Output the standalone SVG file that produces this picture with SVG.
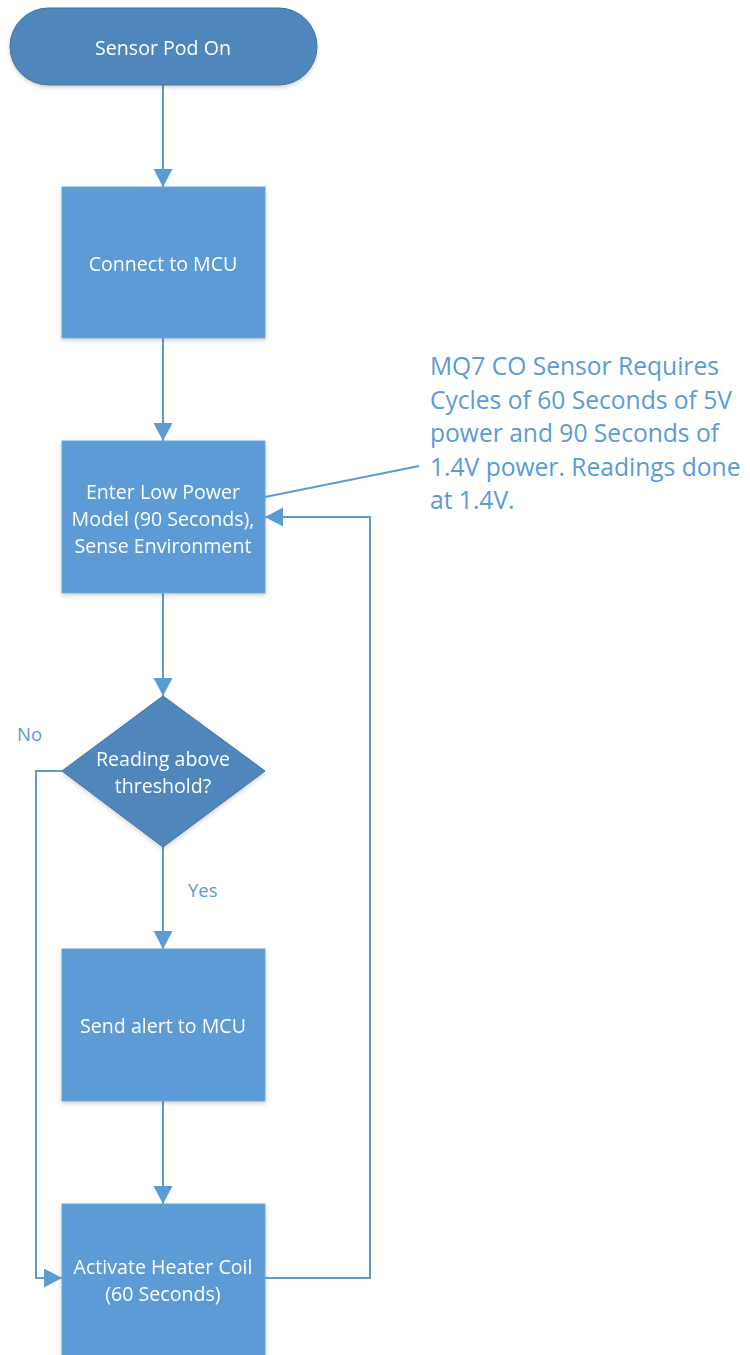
<svg xmlns="http://www.w3.org/2000/svg" width="750" height="1355" viewBox="0 0 750 1355">
  <style>
    .proc { fill: #5b9bd5; stroke: #6ea6d8; stroke-width: 1; }
    .dark { fill: #4f87bd; stroke: #41719c; stroke-width: 1; }
    .lbl { font-family: "Open Sans", "Noto Sans", sans-serif; font-size: 19.6px; fill: #ffffff; text-anchor: middle; dominant-baseline: central; }
    .conn { fill: none; stroke: #5b9bd5; stroke-width: 2; }
    .note { font-family: "Open Sans", "Noto Sans", sans-serif; font-size: 24.6px; fill: #5b9bd5; }
    .tag { font-family: "Open Sans", "Noto Sans", sans-serif; font-size: 18.5px; fill: #5b9bd5; dominant-baseline: central; }
  </style>
  <defs>
    <marker id="arrow" markerUnits="userSpaceOnUse" markerWidth="19" markerHeight="20" refX="18" refY="9.5" orient="auto">
      <path d="M0,0 L18,9.5 L0,19 Z" fill="#5b9bd5"/>
    </marker>
    <filter id="shadow" x="-10%" y="-10%" width="120%" height="125%">
      <feDropShadow dx="0" dy="2" stdDeviation="2" flood-color="#000" flood-opacity="0.18"/>
    </filter>
  </defs>
  <rect width="750" height="1355" fill="#ffffff"/>

  <!-- connectors -->
  <g id="connectors">
    <line class="conn" x1="163" y1="85" x2="163" y2="187" marker-end="url(#arrow)"/>
    <line class="conn" x1="163" y1="338" x2="163" y2="441" marker-end="url(#arrow)"/>
    <line class="conn" x1="163" y1="593" x2="163" y2="696" marker-end="url(#arrow)"/>
    <line class="conn" x1="163" y1="847" x2="163" y2="949" marker-end="url(#arrow)"/>
    <line class="conn" x1="163" y1="1101" x2="163" y2="1204" marker-end="url(#arrow)"/>
    <!-- "No" branch down to the heater -->
    <polyline class="conn" points="62,771 36,771 36,1278 62,1278" marker-end="url(#arrow)"/>
    <!-- loop back from heater to low power sensing -->
    <polyline class="conn" points="265,1278 370,1278 370,517 265,517" marker-end="url(#arrow)"/>
    <!-- annotation leader -->
    <line class="conn" x1="265" y1="497" x2="419" y2="466" stroke-width="1.6"/>
    <text class="tag" x="17" y="733">No</text>
    <text class="tag" x="188" y="889">Yes</text>
  </g>

  <g id="start" filter="url(#shadow)">
    <rect class="dark" x="10" y="8" width="307" height="77" rx="38.5" ry="38.5"/>
    <text class="lbl" x="163" y="47">Sensor Pod On</text>
  </g>

  <g id="connect" filter="url(#shadow)">
    <rect class="proc" x="62" y="187" width="203" height="151"/>
    <text class="lbl" x="163" y="263">Connect to MCU</text>
  </g>

  <g id="lowpower" filter="url(#shadow)">
    <rect class="proc" x="62" y="441" width="203" height="152"/>
    <text class="lbl" x="163" y="491">Enter Low Power</text>
    <text class="lbl" x="163" y="518">Model (90 Seconds),</text>
    <text class="lbl" x="163" y="545">Sense Environment</text>
  </g>

  <g id="decision" filter="url(#shadow)">
    <polygon class="dark" points="163,696 265,771 163,847 62,771"/>
    <text class="lbl" x="163" y="758">Reading above</text>
    <text class="lbl" x="163" y="785">threshold?</text>
  </g>

  <g id="alert" filter="url(#shadow)">
    <rect class="proc" x="62" y="949" width="203" height="152"/>
    <text class="lbl" x="163" y="1025">Send alert to MCU</text>
  </g>

  <g id="heater" filter="url(#shadow)">
    <rect class="proc" x="62" y="1204" width="203" height="160"/>
    <text class="lbl" x="163" y="1266">Activate Heater Coil</text>
    <text class="lbl" x="163" y="1293">(60 Seconds)</text>
  </g>

  <g id="note">
    <text class="note" x="430" y="375">MQ7 CO Sensor Requires</text>
    <text class="note" x="430" y="408.5">Cycles of 60 Seconds of 5V</text>
    <text class="note" x="430" y="442">power and 90 Seconds of</text>
    <text class="note" x="430" y="475.5">1.4V power. Readings done</text>
    <text class="note" x="430" y="509">at 1.4V.</text>
  </g>
</svg>
